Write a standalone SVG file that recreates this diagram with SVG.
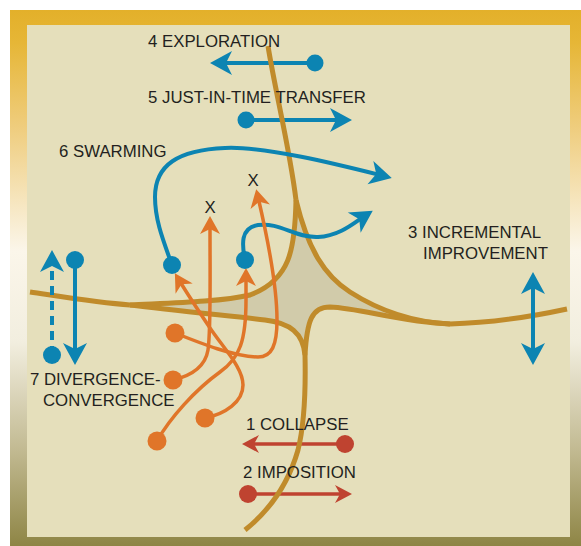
<svg xmlns="http://www.w3.org/2000/svg" width="581" height="546" viewBox="0 0 581 546">
<style>
.t{font-family:"Liberation Sans",Arial,sans-serif;font-size:16.8px;fill:#231f20}
.road{fill:none;stroke:#c08b2b;stroke-width:5}
.b{fill:none;stroke:#0c84b2;stroke-width:4}
.o{fill:none;stroke:#e07529;stroke-width:3.5}
.r{fill:none;stroke:#bf4330;stroke-width:3.5}
.bd{fill:#0c84b2}.od{fill:#e07529}.rd{fill:#bf4330}
</style>
<defs>
<linearGradient id="fr" x1="0" y1="0" x2="0" y2="1">
<stop offset="0" stop-color="#e3b02a"/>
<stop offset="0.06" stop-color="#e6b636"/>
<stop offset="0.22" stop-color="#efcd7e"/>
<stop offset="0.45" stop-color="#fbf6ea"/>
<stop offset="0.62" stop-color="#f2eedf"/>
<stop offset="0.82" stop-color="#c2ba92"/>
<stop offset="1" stop-color="#8e8545"/>
</linearGradient>
<marker id="mb" markerUnits="userSpaceOnUse" markerWidth="30" markerHeight="30" viewBox="-15 -15 30 30" refX="0" refY="0" orient="auto-start-reverse"><path d="M8,0 L-14,-12 L-8,0 L-14,12 Z" fill="#0c84b2"/></marker>
<marker id="mo" markerUnits="userSpaceOnUse" markerWidth="30" markerHeight="30" viewBox="-15 -15 30 30" refX="0" refY="0" orient="auto"><path d="M8,0 L-10,-10 L-5,0 L-10,10 Z" fill="#e07529"/></marker>
<marker id="mr" markerUnits="userSpaceOnUse" markerWidth="30" markerHeight="30" viewBox="-15 -15 30 30" refX="0" refY="0" orient="auto"><path d="M7,0 L-10,-9 L-5,0 L-10,9 Z" fill="#bf4330"/></marker>
</defs>
<rect x="10" y="10" width="571" height="536" fill="url(#fr)"/>
<rect x="27" y="25" width="543" height="512" fill="#e5dfbb"/>

<g id="arrows-under">
<g id="n4"><path class="b" d="M315,63 L218,63" marker-end="url(#mb)"/><circle class="bd" cx="315" cy="63" r="8.5"/></g>
<g id="n5"><path class="b" d="M246,120 L344,120" marker-end="url(#mb)"/><circle class="bd" cx="246" cy="120" r="8.5"/></g>
<g id="n1"><path class="r" d="M345,444 L249,444" marker-end="url(#mr)"/><circle class="rd" cx="345" cy="444" r="9"/></g>
<g id="n2"><path class="r" d="M248,494 L345,494" marker-end="url(#mr)"/><circle class="rd" cx="248" cy="494" r="9"/></g>
</g>

<g id="roads">
<path d="M296,200 C295,250 290,280 250,295 C220,302 170,303 130,305 C170,310 230,316 265,320 C290,323 303,333 305,355 C307,320 312,307 330,307 C360,308 400,322 450,324 C410,322 375,308 350,292 C325,276 308,250 296,200 Z" fill="#d1cbaa"/>
<path class="road" d="M268,46 C275,90 290,150 296,200"/>
<path class="road" d="M296,200 C295,250 290,280 250,295 C220,302 170,303 130,305"/>
<path class="road" d="M130,305 C170,310 230,316 265,320 C290,323 303,333 305,355"/>
<path class="road" d="M305,355 C307,320 312,307 330,307 C360,308 400,322 450,324"/>
<path class="road" d="M450,324 C410,322 375,308 350,292 C325,276 308,250 296,200"/>
<path class="road" d="M30,292 C70,298 100,303 130,305"/>
<path class="road" d="M450,324 C490,323 530,317 567,309"/>
<path class="road" d="M305,355 C306,400 303,430 298,450 C288,485 270,510 245,530"/>
</g>

<g id="connectors">
<g id="n6">
<path class="b" d="M172,265 C163,240 155,220 155,197 C155,165 178,150 225,148 C265,146 340,165 384,176" marker-end="url(#mb)"/>
<path class="b" d="M245,260 C242,245 240,228 258,225 C280,222 295,238 318,237 C340,236 355,222 366,215" marker-end="url(#mb)"/>
</g>
<g id="orange">
<path class="o" d="M175,333 C200,343 235,357 258,357 C272,357 277,345 277,320 C277,290 268,240 258,197" marker-end="url(#mo)"/>
<path class="o" d="M173,380 C190,376 205,368 208,350 C211,330 210,290 210,224" marker-end="url(#mo)"/>
<path class="o" d="M205,418 C225,414 243,402 243,385 C243,368 225,350 210,328 C198,310 188,295 179,280" marker-end="url(#mo)"/>
<path class="o" d="M157,441 C170,418 195,390 220,372 C240,358 246,340 246,300 L246,276" marker-end="url(#mo)"/>
</g>
<g id="n7">
<path class="b" d="M52,355 L52,258" stroke-dasharray="9,6" marker-end="url(#mb)"/>
<path class="b" d="M75,260 L75,357" marker-end="url(#mb)"/>
</g>
<g id="n3"><path class="b" d="M533,280 L533,357" marker-start="url(#mb)" marker-end="url(#mb)"/></g>
</g>

<g id="dots">
<circle class="bd" cx="172" cy="265" r="9"/>
<circle class="bd" cx="245" cy="260" r="9"/>
<circle class="od" cx="175" cy="333" r="9.5"/>
<circle class="od" cx="173" cy="380" r="9.5"/>
<circle class="od" cx="205" cy="418" r="9.5"/>
<circle class="od" cx="157" cy="441" r="9.5"/>
<circle class="bd" cx="52" cy="355" r="9"/>
<circle class="bd" cx="75" cy="260" r="9"/>
</g>

<g id="labels">
<text class="t" x="148" y="47">4 EXPLORATION</text>
<text class="t" x="148" y="103">5 JUST-IN-TIME TRANSFER</text>
<text class="t" x="59" y="157">6 SWARMING</text>
<text class="t" x="210" y="213" text-anchor="middle">X</text>
<text class="t" x="253" y="186" text-anchor="middle">X</text>
<text class="t" x="408" y="238">3 INCREMENTAL</text>
<text class="t" x="423" y="259">IMPROVEMENT</text>
<text class="t" x="30" y="385">7 DIVERGENCE-</text>
<text class="t" x="43" y="406">CONVERGENCE</text>
<text class="t" x="246" y="430">1 COLLAPSE</text>
<text class="t" x="243" y="478">2 IMPOSITION</text>
</g>
</svg>
